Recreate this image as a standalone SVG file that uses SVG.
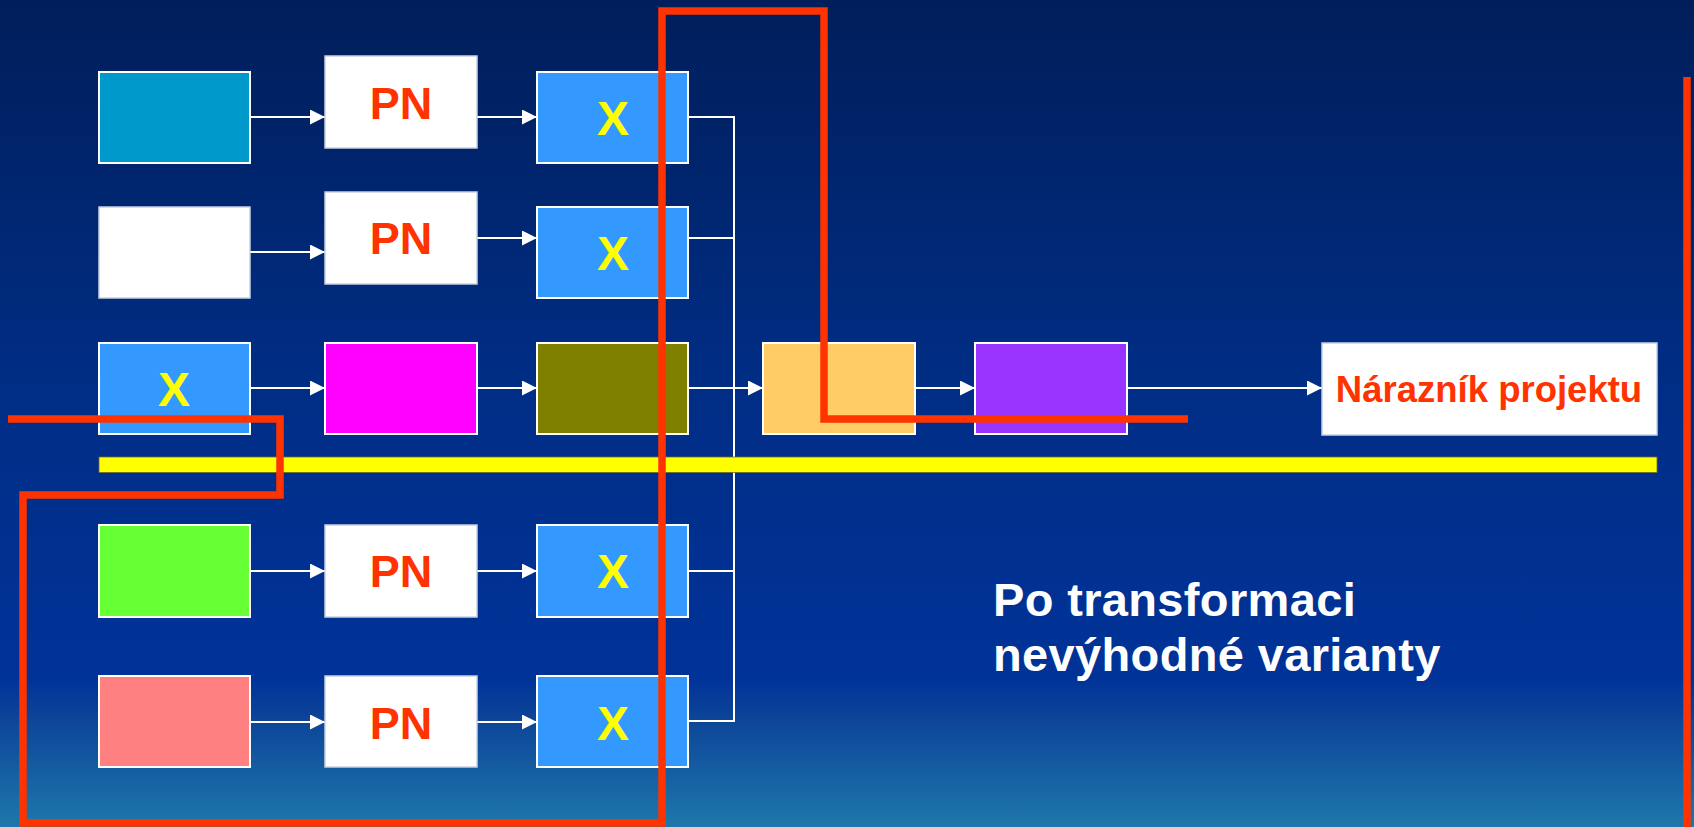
<svg xmlns="http://www.w3.org/2000/svg" width="1694" height="827" viewBox="0 0 1694 827">
<defs>
<linearGradient id="bg" x1="0" y1="0" x2="0" y2="1">
<stop offset="0" stop-color="#001e5a"/>
<stop offset="0.45" stop-color="#002d84"/>
<stop offset="0.82" stop-color="#003399"/>
<stop offset="0.86" stop-color="#0b4198"/>
<stop offset="1" stop-color="#1e78aa"/>
</linearGradient>
<marker id="ah" markerUnits="userSpaceOnUse" markerWidth="16" markerHeight="16" refX="15" refY="7.5" orient="auto">
<path d="M0,0 L15,7.5 L0,15 z" fill="#ffffff"/>
</marker>
<style>
.box{stroke:#ffffff;stroke-width:2}
.wbox{fill:#ffffff;stroke:#c8d0e0;stroke-width:1.5}
.pn{font-family:"Liberation Sans",Arial,sans-serif;font-weight:bold;font-size:45px;fill:#ff3300;text-anchor:middle}
.x{font-family:"Liberation Sans",Arial,sans-serif;font-weight:bold;font-size:48px;fill:#ffff00;text-anchor:middle}
.c{stroke:#ffffff;stroke-width:2;fill:none}
.a{stroke:#ffffff;stroke-width:2;fill:none;marker-end:url(#ah)}
.red{stroke:#ff3300;stroke-width:7.5;fill:none;stroke-linejoin:miter;stroke-linecap:butt}
</style>
</defs>
<rect x="0" y="0" width="1694" height="827" fill="url(#bg)"/>

<g id="connectors">
<line class="a" x1="250" y1="117" x2="325" y2="117"/>
<line class="a" x1="477" y1="117" x2="537" y2="117"/>
<line class="a" x1="250" y1="252" x2="325" y2="252"/>
<line class="a" x1="477" y1="238" x2="537" y2="238"/>
<line class="a" x1="250" y1="388" x2="325" y2="388"/>
<line class="a" x1="477" y1="388" x2="537" y2="388"/>
<line class="a" x1="688" y1="388" x2="763" y2="388"/>
<line class="a" x1="915" y1="388" x2="975" y2="388"/>
<line class="a" x1="1127" y1="388" x2="1322" y2="388"/>
<line class="a" x1="250" y1="571" x2="325" y2="571"/>
<line class="a" x1="477" y1="571" x2="537" y2="571"/>
<line class="a" x1="250" y1="722" x2="325" y2="722"/>
<line class="a" x1="477" y1="722" x2="537" y2="722"/>
<path class="c" d="M688,117 H734 V721 H688 M688,238 H734 M688,571 H734"/>
</g>

<g id="n1a"><rect class="box" x="99" y="72" width="151" height="91" fill="#0099cc"/></g>
<g id="n1b"><rect class="wbox" x="325" y="56" width="152" height="92"/><text class="pn" x="401" y="119">PN</text></g>
<g id="n1c"><rect class="box" x="537" y="72" width="151" height="91" fill="#3399ff"/><text class="x" x="613" y="135">X</text></g>

<g id="n2a"><rect class="wbox" x="99" y="207" width="151" height="91"/></g>
<g id="n2b"><rect class="wbox" x="325" y="192" width="152" height="92"/><text class="pn" x="401" y="254">PN</text></g>
<g id="n2c"><rect class="box" x="537" y="207" width="151" height="91" fill="#3399ff"/><text class="x" x="613" y="270">X</text></g>

<g id="n3a"><rect class="box" x="99" y="343" width="151" height="91" fill="#3399ff"/><text class="x" x="174" y="406">X</text></g>
<g id="n3b"><rect class="box" x="325" y="343" width="152" height="91" fill="#ff00ff"/></g>
<g id="n3c"><rect class="box" x="537" y="343" width="151" height="91" fill="#808000"/></g>
<g id="n3d"><rect class="box" x="763" y="343" width="152" height="91" fill="#ffcc66"/></g>
<g id="n3e"><rect class="box" x="975" y="343" width="152" height="91" fill="#9933ff"/></g>
<g id="n3f"><rect class="wbox" x="1322" y="343" width="335" height="92" stroke="#8090b0"/><text x="1489" y="402" font-family="Liberation Sans, Arial, sans-serif" font-weight="bold" font-size="36.5" fill="#ff3300" text-anchor="middle">Nárazník projektu</text></g>

<g id="divider"><rect x="99" y="457" width="1558" height="15.5" fill="#ffff00" stroke="#6a6a30" stroke-width="0.8"/></g>

<g id="n4a"><rect class="box" x="99" y="525" width="151" height="92" fill="#66ff33"/></g>
<g id="n4b"><rect class="wbox" x="325" y="525" width="152" height="92"/><text class="pn" x="401" y="587">PN</text></g>
<g id="n4c"><rect class="box" x="537" y="525" width="151" height="92" fill="#3399ff"/><text class="x" x="613" y="588">X</text></g>

<g id="n5a"><rect class="box" x="99" y="676" width="151" height="91" fill="#ff8080"/></g>
<g id="n5b"><rect class="wbox" x="325" y="676" width="152" height="91"/><text class="pn" x="401" y="739">PN</text></g>
<g id="n5c"><rect class="box" x="537" y="676" width="151" height="91" fill="#3399ff"/><text class="x" x="613" y="740">X</text></g>

<g id="redlines">
<path class="red" d="M8,419 H280 V495 H23 V823 H662 V11 H824 V419 H1188"/>
<line class="red" x1="1687" y1="77" x2="1687" y2="827" stroke-width="8"/>
</g>

<g id="caption">
<text font-family="Liberation Sans, Arial, sans-serif" font-weight="bold" font-size="47" letter-spacing="0.35" fill="#ffffff"><tspan x="993" y="616">Po transformaci</tspan><tspan x="993" y="671">nevýhodné varianty</tspan></text>
</g>
</svg>
